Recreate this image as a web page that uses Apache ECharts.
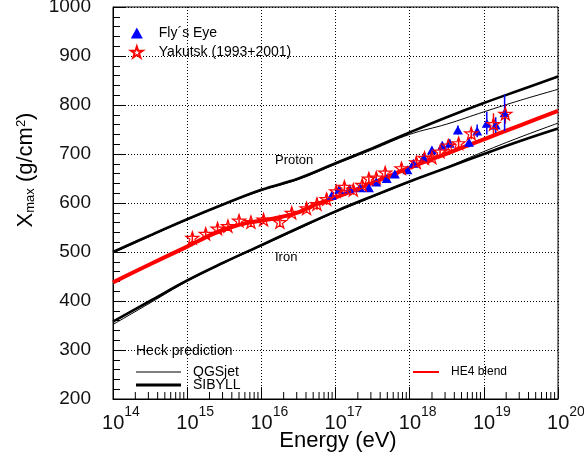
<!DOCTYPE html>
<html>
<head>
<meta charset="utf-8">
<script src="https://cdn.jsdelivr.net/npm/echarts@6/dist/echarts.min.js"></script>
<style>
  html, body { margin: 0; padding: 0; background: #fff; }
  #chart { width: 584px; height: 457px; }
</style>
</head>
<body>
<div id="chart"></div>
<script>
const FONT = '"Liberation Sans", Arial, Helvetica, sans-serif';

// Model predictions (Heck): log10(E/eV) nodes and Xmax in g/cm^2
const modelLgE     = [14, 14.5, 15, 15.5, 16, 16.5, 17, 17.5, 18, 18.5, 19, 19.5, 20];
const protonSibyll = [500, 534, 567, 598, 627, 650, 681, 712, 744, 775, 804, 831, 858];
const protonQgsjet = [498, 532, 565, 597, 625, 648, 679, 709, 740, 761, 786, 810, 832];
const ironSibyll   = [358, 400, 442, 479, 514, 549, 583, 614, 644, 672, 700, 727, 752];
const ironQgsjet   = [352, 396, 440, 478, 512, 547, 581, 612, 643, 673, 705, 735, 763];

// HE4 blend
const he4LgE   = [14, 14.5, 15, 15.35, 15.6, 15.8, 16, 16.25, 16.5, 16.75, 17, 17.5, 18, 18.5, 19, 19.5, 20];
const he4Blend = [438, 475, 511, 537, 551, 559, 564, 571, 581, 598, 611, 641, 672, 701, 730, 759, 788];

// Fly's Eye measurements
const flysEyeLgE  = [16.95, 17.05, 17.19, 17.33, 17.45, 17.55, 17.69, 17.80, 17.97, 18.05, 18.19, 18.30, 18.44, 18.54, 18.65, 18.80, 18.91, 19.04, 19.16, 19.28];
const flysEyeXmax = [616, 628, 629, 631, 631, 643, 650, 659, 668, 681, 693, 708, 718, 722, 749, 724, 747, 763, 759, 784];
const flysEyeErr  = [5, 5, 5, 5, 5, 5, 5, 6, 6, 6, 7, 7, 7, 8, 9, 10, 13, 23, 16, 37];

// Yakutsk (1993+2001) measurements
const yakutskLgE  = [15.07, 15.25, 15.41, 15.55, 15.70, 15.86, 16.03, 16.25, 16.41, 16.61, 16.75, 16.88, 17.01, 17.12, 17.24, 17.36, 17.45, 17.55, 17.67, 17.89, 18.09, 18.20, 18.30, 18.41, 18.52, 18.66, 18.83, 19.13, 19.29];
const yakutskXmax = [529, 537, 548, 553, 564, 561, 566, 561, 580, 589, 598, 608, 624, 633, 627, 637, 650, 652, 662, 671, 683, 692, 693, 705, 717, 722, 742, 761, 782];
const yakutskErr  = [8, 8, 8, 7, 8, 7, 8, 8, 9, 9, 12, 12, 10, 10, 10, 10, 10, 10, 10, 10, 10, 10, 10, 10, 10, 10, 12, 22, 20];

// Axis ranges: x in decades of eV, y in g/cm^2
const xMin = 14, xMax = 20;
const yMin = 200, yMax = 1000;

// Logarithmic minor tick positions (2..9 within each decade)
const minorTicks = [];
for (let d = xMin; d < xMax; d++) {
  for (let k = 2; k <= 9; k++) minorTicks.push([d + Math.log10(k), yMin]);
}

const pairs = (xs, ys) => xs.map((x, i) => [x, ys[i]]);
const bars = (xs, ys, es) => xs.map((x, i) => [x, ys[i] - es[i], ys[i] + es[i]]);

const STAR = 'path://M50,2 L61.2,36.4 L97.6,36.4 L68.2,57.6 L79.4,92 L50,70.8 L20.6,92 L31.8,57.6 L2.4,36.4 L38.8,36.4 Z';

function errorBarRenderer(color) {
  return function (params, api) {
    const x = api.value(0);
    const p1 = api.coord([x, api.value(1)]);
    const p2 = api.coord([x, api.value(2)]);
    return {
      type: 'line',
      shape: { x1: p1[0], y1: p1[1], x2: p2[0], y2: p2[1] },
      style: { stroke: color, lineWidth: 1.5 }
    };
  };
}

// One legend block per line entry so each icon keeps its own stroke thickness
function lineLegend(name, left, top, width, thickness, fontSize) {
  return {
    data: [name], icon: 'rect', orient: 'vertical', left: left, top: top, padding: 0,
    itemWidth: width, itemHeight: thickness, selectedMode: false,
    textStyle: { fontSize: fontSize, color: '#000', fontFamily: FONT, padding: [0, 0, 0, 7] }
  };
}

const chart = echarts.init(document.getElementById('chart'), null, { renderer: 'canvas' });

const option = {
  animation: false,
  backgroundColor: '#fff',
  textStyle: { fontFamily: FONT },
  grid: {
    left: 113, right: 26, top: 7, bottom: 58,
    show: true, borderColor: '#000', borderWidth: 1,
    containLabel: false, outerBoundsMode: 'none'
  },
  xAxis: {
    type: 'value', min: xMin, max: xMax, interval: 1,
    axisLine: { show: true, onZero: false, lineStyle: { color: '#000', width: 1 } },
    axisTick: { show: true, inside: true, length: 12, lineStyle: { color: '#000' } },
    splitLine: { show: true, lineStyle: { color: '#000', width: 1, type: [1, 2] } },
    axisLabel: {
      margin: 6,
      padding: [0, 0, 0, 16],
      formatter: v => '{b|10}{s|' + v + '}',
      rich: {
        b: { fontSize: 20, lineHeight: 36, fontFamily: FONT, color: '#111' },
        s: { fontSize: 14, lineHeight: 14, verticalAlign: 'top', fontFamily: FONT, color: '#111' }
      }
    }
  },
  yAxis: {
    type: 'value', min: yMin, max: yMax, interval: 100,
    axisLine: { show: true, onZero: false, lineStyle: { color: '#000', width: 1 } },
    axisTick: { show: true, inside: true, length: 12, lineStyle: { color: '#000' } },
    minorTick: { show: true, splitNumber: 5, length: 7, lineStyle: { color: '#000' } },
    splitLine: { show: true, lineStyle: { color: '#000', width: 1, type: [1, 2] } },
    axisLabel: { fontSize: 19, margin: 22, color: '#111', fontFamily: FONT, formatter: v => String(v) }
  },
  legend: [
    {
      data: ['Fly´s Eye', 'Yakutsk (1993+2001)'],
      orient: 'vertical', left: 130, top: 26, padding: 0,
      itemWidth: 12, itemHeight: 11, itemGap: 5, selectedMode: false,
      textStyle: { fontSize: 14, color: '#000', fontFamily: FONT, padding: [0, 0, 0, 11] }
    },
    lineLegend('QGSjet', 136, 365, 45, 1, 14),
    lineLegend('SIBYLL', 136, 378, 45, 3, 14),
    lineLegend('HE4 blend', 413, 366, 26, 2, 12)
  ],
  graphic: [
    {
      type: 'text', x: 26, y: 170, rotation: Math.PI / 2, silent: true,
      style: {
        text: 'X{sub|max} (g/cm{sup|2})',
        align: 'center', verticalAlign: 'middle',
        fontSize: 22, fontFamily: FONT, fill: '#000',
        rich: {
          sub: { fontSize: 13, lineHeight: 13, verticalAlign: 'bottom', fontFamily: FONT, fill: '#000' },
          sup: { fontSize: 13, lineHeight: 13, verticalAlign: 'top', fontFamily: FONT, fill: '#000' }
        }
      }
    },
    {
      type: 'text', x: 338, y: 441, silent: true,
      style: { text: 'Energy (eV)', align: 'center', verticalAlign: 'middle', fontSize: 22, fontFamily: FONT, fill: '#000' }
    },
    {
      type: 'text', x: 275, y: 160, silent: true,
      style: { text: 'Proton', align: 'left', verticalAlign: 'middle', fontSize: 13, fontFamily: FONT, fill: '#000' }
    },
    {
      type: 'text', x: 275, y: 257, silent: true,
      style: { text: 'Iron', align: 'left', verticalAlign: 'middle', fontSize: 13, fontFamily: FONT, fill: '#000' }
    },
    {
      type: 'text', x: 136, y: 351, silent: true,
      style: { text: 'Heck prediction', align: 'left', verticalAlign: 'middle', fontSize: 14, fontFamily: FONT, fill: '#000' }
    }
  ],
  series: [
    {
      name: 'minor ticks', type: 'custom', silent: true, clip: false, z: 1,
      data: minorTicks, encode: { x: 0, y: 1 },
      renderItem: (params, api) => {
        const p = api.coord([api.value(0), api.value(1)]);
        return { type: 'line', shape: { x1: p[0], y1: p[1], x2: p[0], y2: p[1] - 7 }, style: { stroke: '#000', lineWidth: 1 } };
      }
    },
    {
      name: 'SIBYLL', type: 'line', data: pairs(modelLgE, protonSibyll), z: 2,
      symbol: 'none', smooth: 0.4, lineStyle: { color: '#000', width: 2.6 }, itemStyle: { color: '#000' }
    },
    {
      name: 'SIBYLL', type: 'line', data: pairs(modelLgE, ironSibyll), z: 2,
      symbol: 'none', smooth: 0.4, lineStyle: { color: '#000', width: 2.6 }, itemStyle: { color: '#000' }
    },
    {
      name: 'QGSjet', type: 'line', data: pairs(modelLgE, protonQgsjet), z: 2,
      symbol: 'none', smooth: 0.4, lineStyle: { color: '#000', width: 1 }, itemStyle: { color: '#000' }
    },
    {
      name: 'QGSjet', type: 'line', data: pairs(modelLgE, ironQgsjet), z: 2,
      symbol: 'none', smooth: 0.4, lineStyle: { color: '#000', width: 1 }, itemStyle: { color: '#000' }
    },
    {
      name: 'HE4 blend', type: 'line', data: pairs(he4LgE, he4Blend), z: 3,
      symbol: 'none', smooth: 0.3, lineStyle: { color: '#ff0000', width: 4 }, itemStyle: { color: '#ff0000' }
    },
    {
      name: 'Yakutsk errors', type: 'custom', silent: true, z: 4,
      data: bars(yakutskLgE, yakutskXmax, yakutskErr), encode: { x: 0, y: [1, 2] },
      renderItem: errorBarRenderer('#ff0000')
    },
    {
      name: 'Fly´s Eye errors', type: 'custom', silent: true, z: 4,
      data: bars(flysEyeLgE, flysEyeXmax, flysEyeErr), encode: { x: 0, y: [1, 2] },
      renderItem: errorBarRenderer('#0000ff')
    },
    {
      name: 'Fly´s Eye', type: 'scatter', data: pairs(flysEyeLgE, flysEyeXmax), z: 5,
      symbol: 'triangle', symbolSize: [10, 9], itemStyle: { color: '#0000ff', opacity: 1 }
    },
    {
      name: 'Yakutsk (1993+2001)', type: 'scatter', data: pairs(yakutskLgE, yakutskXmax), z: 6,
      symbol: STAR, symbolSize: 13, symbolKeepAspect: true,
      itemStyle: { color: 'rgba(255,255,255,0)', borderColor: '#ff0000', borderWidth: 1.2, opacity: 1 }
    }
  ]
};

chart.setOption(option);
</script>
</body>
</html>
